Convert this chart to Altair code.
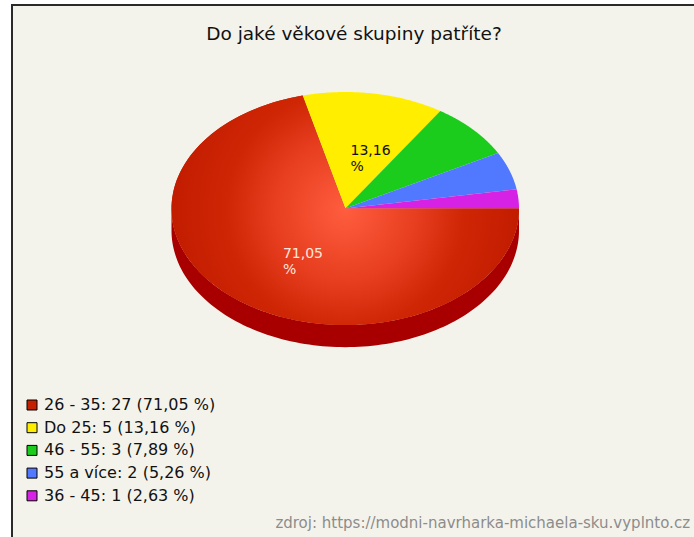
import altair as alt
import pandas as pd

# ---- data ----
categories = ["26 - 35", "Do 25", "46 - 55", "55 a více", "36 - 45"]
counts = [27, 5, 3, 2, 1]
percents = [71.05, 13.16, 7.89, 5.26, 2.63]

# ---- styles ----
face_colors = ["#c42100", "#ffee00", "#1ccc1c", "#5079ff", "#d622e4"]
side_colors = ["#a80000", "#c8b800", "#009000", "#3050c0", "#900090"]
title_text = "Do jaké věkové skupiny patříte?"
source_text = "zdroj: https://modni-navrharka-michaela-sku.vyplnto.cz"
FONT = "DejaVu Sans"
BG = "#f4f3eb"


def cz(p):
    return f"{p:.2f}".replace(".", ",")


labels = [f"{c}: {n} ({cz(p)} %)" for c, n, p in zip(categories, counts, percents)]
slice_text = [f"{cz(p)}\n%" for p in percents]

df = pd.DataFrame({
    "idx": list(range(len(categories))),
    "cat": categories,
    "count": counts,
    "pct": percents,
    "label": labels,
    "txt": slice_text,
})

N = 120          # points along each arc
DEPTH = 0.19     # thickness of the pie side, in y-units

xs = alt.Scale(domain=[-1, 1], range=[171.5, 519], nice=False, zero=False)
ys = alt.Scale(domain=[-1, 1], range=[325, 92], nice=False, zero=False)

base = (
    alt.Chart(df)
    .transform_joinaggregate(total="sum(count)")
    .transform_window(cum="sum(count)", sort=[alt.SortField("idx")], frame=[None, 0])
    .transform_calculate(
        a0="2*PI*(datum.cum - datum.count)/datum.total",
        a1="2*PI*datum.cum/datum.total",
    )
)

# top face polygons
top_pts = (
    base.transform_calculate(k=f"sequence(-1, {N + 1})")
    .transform_flatten(["k"])
    .transform_calculate(
        ang=f"datum.a0 + (datum.a1 - datum.a0) * max(datum.k, 0) / {N}",
        px="datum.k < 0 ? 0 : cos(datum.ang)",
        py="datum.k < 0 ? 0 : -sin(datum.ang)",
    )
)

legend = alt.Legend(
    title=None, orient="none", legendX=24, legendY=397,
    symbolType="square", symbolSize=100, symbolStrokeColor="black",
    symbolStrokeWidth=1, symbolOpacity=1, labelFont=FONT, labelFontSize=16,
    labelColor="#111111", labelOffset=4, labelLimit=0, rowPadding=6.7, padding=0,
)

top = top_pts.mark_line(stroke="black", strokeWidth=0, interpolate="linear").encode(
    x=alt.X("px:Q", scale=xs, axis=None),
    y=alt.Y("py:Q", scale=ys, axis=None),
    order="k:Q",
    fill=alt.Fill("label:N", scale=alt.Scale(domain=labels, range=face_colors), legend=legend),
)

red_grad = top_pts.transform_filter("datum.idx == 0").mark_line(
    strokeWidth=0,
    fill={
        "gradient": "radial",
        "stops": [
            {"offset": 0, "color": "#ff5d3e"},
            {"offset": 0.4, "color": "#e73f20"},
            {"offset": 0.68, "color": "#cf2605"},
            {"offset": 1, "color": "#c21c00"},
        ],
        "x1": 0.5, "y1": 0.5, "r1": 0,
        "x2": 0.5, "y2": 0.5, "r2": 0.5,
    },
).encode(
    x=alt.X("px:Q", scale=xs, axis=None),
    y=alt.Y("py:Q", scale=ys, axis=None),
    order="k:Q",
)

# pie side (front half only)
side = (
    base.transform_calculate(s0="max(datum.a0, 0)", s1="min(datum.a1, PI)")
    .transform_filter("datum.s1 > datum.s0")
    .transform_calculate(k=f"sequence(0, {2 * N + 2})")
    .transform_flatten(["k"])
    .transform_calculate(
        t=f"datum.k <= {N} ? datum.k / {N} : ({2 * N + 1} - datum.k) / {N}",
        ang="datum.s0 + (datum.s1 - datum.s0) * datum.t",
        px="cos(datum.ang)",
        py=f"-sin(datum.ang) - (datum.k <= {N} ? 0 : {DEPTH})",
    )
    .mark_line(strokeWidth=0)
    .encode(
        x=alt.X("px:Q", scale=xs, axis=None),
        y=alt.Y("py:Q", scale=ys, axis=None),
        order="k:Q",
        fill=alt.Fill("label:N", scale=alt.Scale(domain=labels, range=side_colors), legend=None),
    )
)

# percentage labels on the big slices
slice_labels = (
    base.transform_filter("datum.pct >= 10")
    .transform_calculate(
        am="(datum.a0 + datum.a1) / 2",
        lx="0.5 * cos(datum.am)",
        ly="-0.5 * sin(datum.am)",
    )
    .mark_text(font=FONT, fontSize=14, align="left", baseline="top", dx=-9, dy=-7,
               lineBreak="\n", lineHeight=16)
    .encode(
        x=alt.X("lx:Q", scale=xs, axis=None),
        y=alt.Y("ly:Q", scale=ys, axis=None),
        text="txt:N",
        color=alt.condition("datum.idx == 0", alt.value("#ffe6dc"), alt.value("#111111")),
    )
)

frame = alt.Chart(pd.DataFrame({"a": [0]})).mark_rect(
    fill=BG, stroke="#2a2a2a", strokeWidth=2
).encode(x=alt.value(12), x2=alt.value(760), y=alt.value(5), y2=alt.value(600))

title = alt.Chart(pd.DataFrame({"t": [title_text]})).mark_text(
    font=FONT, fontSize=18.5, color="#111111", align="center", baseline="middle"
).encode(text="t:N", x=alt.value(354), y=alt.value(34))

source = alt.Chart(pd.DataFrame({"t": [source_text]})).mark_text(
    font=FONT, fontSize=15, color="#8c8c8c", align="right", baseline="middle"
).encode(text="t:N", x=alt.value(690), y=alt.value(523))

chart = (
    alt.layer(frame, side, top, red_grad, slice_labels, title, source)
    .resolve_scale(fill="independent", color="independent")
    .properties(width=694, height=537, autosize=alt.AutoSizeParams(type="none"),
                padding=0, background="white")
    .configure_view(strokeWidth=0)
)

chart.save("out.html", embed_options={"renderer": "svg", "actions": False})
